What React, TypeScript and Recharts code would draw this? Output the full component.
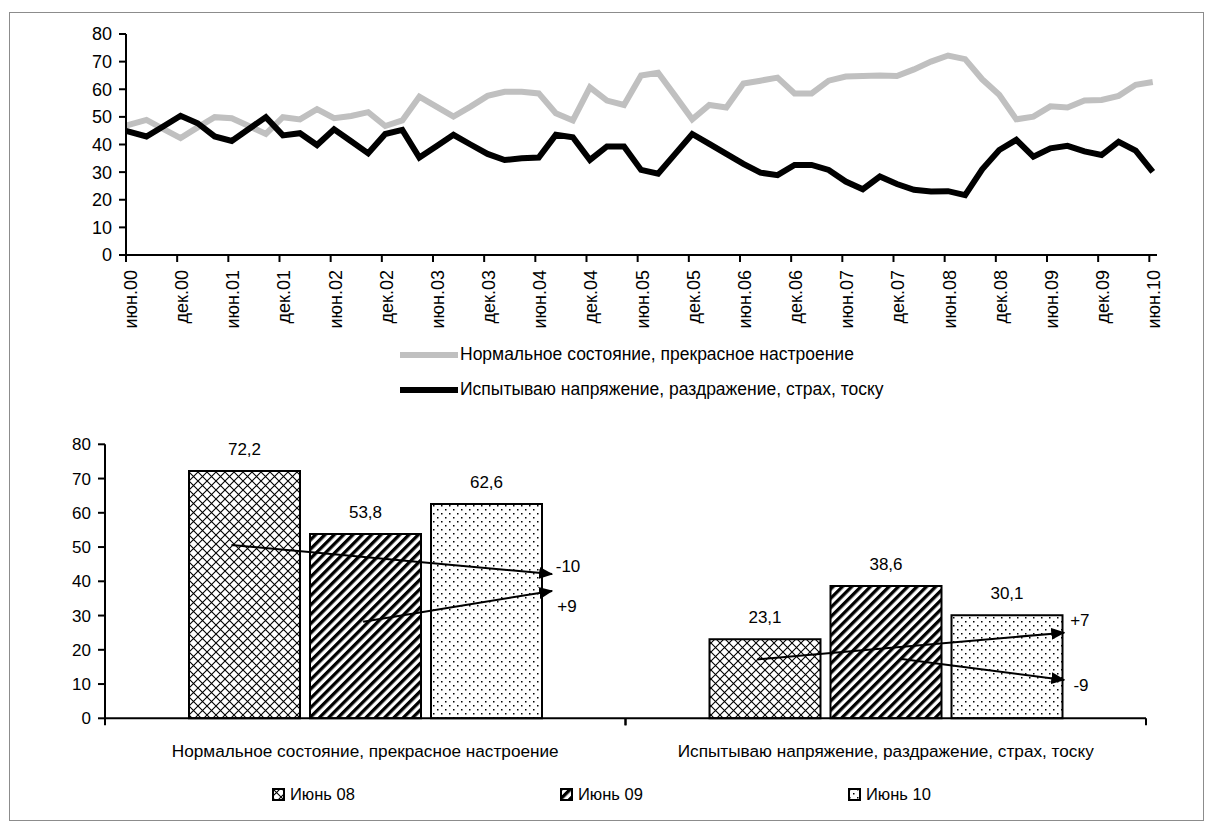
import React from 'react';
import {
  LineChart,
  Line,
  XAxis,
  YAxis,
  BarChart,
  Bar,
  LabelList,
  ReferenceLine,
  ReferenceDot,
} from 'recharts';

const FONT = '"Liberation Sans", Arial, Helvetica, sans-serif';

// months since June 2000 for every survey wave
const surveyMonths = [
  0, 2.4, 4.4, 6.4, 8.4, 10.4, 12.4, 14.4, 16.4, 18.4, 20.4, 22.4, 24.4, 26.4, 28.4, 30.4,
  32.4, 34.4, 36.4, 38.4, 40.4, 42.4, 44.4, 46.4, 48.4, 50.4, 52.4, 54.4, 56.4, 58.4, 60.4,
  62.4, 64.4, 66.4, 68.4, 70.4, 72.4, 74.4, 76.4, 78.4, 80.4, 82.4, 84.4, 86.4, 88.4, 90.4,
  92.4, 94.4, 96.4, 98.4, 100.4, 102.4, 104.4, 106.4, 108.4, 110.4, 112.4, 114.4, 116.4,
  118.4, 120.4,
];

const normalMood = [
  46.8, 48.9, 45.6, 42.3, 46.2, 49.9, 49.5, 46.7, 43.8, 49.9, 49.1, 52.8, 49.5, 50.3, 51.7,
  46.7, 48.7, 57.3, 53.7, 50.1, 53.7, 57.6, 59.1, 59.1, 58.5, 51.3, 48.7, 60.7, 55.9, 54.3,
  65.0, 66.0, 57.6, 49.1, 54.3, 53.4, 62.1, 63.1, 64.2, 58.5, 58.5, 63.1, 64.6, 64.8, 65.0,
  64.8, 67.2, 70.0, 72.2, 70.9, 63.6, 58.0, 49.1, 50.1, 53.8, 53.4, 55.9, 56.1, 57.6, 61.6,
  62.6,
];

const stressMood = [
  44.9, 42.9, 46.6, 50.4, 47.7, 42.9, 41.3, 45.6, 49.9, 43.3, 44.1, 39.8, 45.5, 41.2, 36.8,
  43.8, 45.3, 35.3, 39.4, 43.5, 40.0, 36.6, 34.4, 35.0, 35.3, 43.5, 42.6, 34.4, 39.3, 39.3,
  30.8, 29.4, 36.6, 43.8, 40.2, 36.6, 33.0, 29.8, 28.9, 32.6, 32.6, 30.8, 26.6, 23.8, 28.4,
  25.7, 23.6, 23.0, 23.1, 21.7, 31.0, 38.0, 41.7, 35.6, 38.6, 39.5, 37.5, 36.2, 41.0, 37.8,
  30.1,
];

const periodLabels = [
  'июн.00', 'дек.00', 'июн.01', 'дек.01', 'июн.02', 'дек.02', 'июн.03', 'дек.03', 'июн.04',
  'дек.04', 'июн.05', 'дек.05', 'июн.06', 'дек.06', 'июн.07', 'дек.07', 'июн.08', 'дек.08',
  'июн.09', 'дек.09', 'июн.10',
];
const periodTicks = periodLabels.map((_, i) => i * 6);

const moodNames = [
  'Нормальное состояние, прекрасное настроение',
  'Испытываю напряжение, раздражение, страх, тоску',
];
const moodColors = ['#c0c0c0', '#000000'];

const waveNames = ['Июнь 08', 'Июнь 09', 'Июнь 10'];
const june08 = [72.2, 23.1];
const june09 = [53.8, 38.6];
const june10 = [62.6, 30.1];
const wavePatterns = ['url(#pCross)', 'url(#pDiag)', 'url(#pDots)'];

// change arrows: [share of the category axis width (0..1), value]
const arrowFrom = [[0.1215, 50.6], [0.248, 28.2], [0.6265, 17.2], [0.7635, 17.4]];
const arrowTo = [[0.4295, 42.1], [0.4295, 37.2], [0.9215, 25.0], [0.9215, 11.2]];
const arrowText = ['-10', '+9', '+7', '-9'];
const arrowTextAt = [[0.4448, 44.5], [0.4438, 32.8], [0.9365, 28.7], [0.9375, 9.7]];

const lineData = surveyMonths.map((m, i) => ({
  m,
  normal: normalMood[i],
  stress: stressMood[i],
}));

const barData = moodNames.map((name, i) => ({
  name,
  j08: june08[i],
  j09: june09[i],
  j10: june10[i],
}));

const yTicks = [0, 10, 20, 30, 40, 50, 60, 70, 80];

function PeriodTick({ x, y, payload }: any) {
  const px = x + 11;
  const py = y + 6;
  return (
    <text
      x={px}
      y={py}
      transform={`rotate(-90, ${px}, ${py})`}
      textAnchor="end"
      fontSize={18}
      fill="#000"
    >
      {periodLabels[periodTicks.indexOf(payload.value)]}
    </text>
  );
}

function MoodTick({ x, y, payload }: any) {
  const half = payload.offset ?? 260;
  const axisY = y - 9;
  return (
    <g>
      <line x1={x - half} y1={axisY} x2={x - half} y2={axisY + 7} stroke="#000" strokeWidth={2} />
      <line x1={x + half} y1={axisY} x2={x + half} y2={axisY + 7} stroke="#000" strokeWidth={2} />
      <text x={x} y={y + 30} textAnchor="middle" fontSize={17.2} fill="#000">
        {payload.value}
      </text>
    </g>
  );
}

function Patterns() {
  return (
    <svg width={0} height={0} style={{ position: 'absolute' }}>
      <defs>
        <pattern id="pCross" width="9" height="9" patternUnits="userSpaceOnUse">
          <rect width="9" height="9" fill="#fff" />
          <path d="M0,0 L9,9 M9,0 L0,9" stroke="#000" strokeWidth="1.1" />
        </pattern>
        <pattern id="pDiag" width="6.6" height="6.6" patternUnits="userSpaceOnUse" patternTransform="rotate(45)">
          <rect width="6.6" height="6.6" fill="#fff" />
          <rect width="3.3" height="6.6" fill="#000" />
        </pattern>
        <pattern id="pDots" width="8" height="8" patternUnits="userSpaceOnUse">
          <rect width="8" height="8" fill="#fff" />
          <rect x="1" y="1" width="1.5" height="1.5" fill="#000" />
          <rect x="5" y="5" width="1.5" height="1.5" fill="#000" />
        </pattern>
        <marker id="arrowHead" markerWidth="14" markerHeight="12" refX="13" refY="6" orient="auto" markerUnits="userSpaceOnUse">
          <path d="M0,0 L14,6 L0,12 z" fill="#000" />
        </marker>
      </defs>
    </svg>
  );
}

export default function App() {
  return (
    <div style={{ position: 'absolute', left: 0, top: 0, width: 1213, height: 824, background: '#fff', fontFamily: FONT, color: '#000' }}>
      <Patterns />
      <div style={{ position: 'absolute', left: 9, top: 12, width: 1195, height: 809, border: '1px solid #8c8c8c', boxSizing: 'border-box' }} />

      <div style={{ position: 'absolute', left: 0, top: 0 }}>
        <LineChart width={1213} height={340} data={lineData} margin={{ top: 34, right: 56, bottom: 5, left: 66 }}>
          <XAxis
            dataKey="m"
            type="number"
            domain={[0, 120.9]}
            ticks={periodTicks}
            interval={0}
            tickSize={7}
            height={80}
            axisLine={{ stroke: '#000', strokeWidth: 2 }}
            tickLine={{ stroke: '#000', strokeWidth: 2 }}
            tick={<PeriodTick />}
          />
          <YAxis
            type="number"
            domain={[0, 80]}
            ticks={yTicks}
            interval={0}
            width={60}
            tickSize={7}
            tickMargin={7}
            axisLine={{ stroke: '#000', strokeWidth: 2 }}
            tickLine={{ stroke: '#000', strokeWidth: 2 }}
            tick={{ fontSize: 18, fill: '#000' }}
          />
          <Line dataKey="normal" name={moodNames[0]} stroke={moodColors[0]} strokeWidth={6} dot={false} type="linear" isAnimationActive={false} />
          <Line dataKey="stress" name={moodNames[1]} stroke={moodColors[1]} strokeWidth={6} dot={false} type="linear" isAnimationActive={false} />
        </LineChart>
      </div>

      <div style={{ position: 'absolute', left: 400, top: 337, fontSize: 17.5 }}>
        {moodNames.map((name, i) => (
          <div key={name} style={{ display: 'flex', alignItems: 'center', height: 35 }}>
            <svg width={58} height={10}>
              <line x1={0} y1={5} x2={58} y2={5} stroke={moodColors[i]} strokeWidth={6} />
            </svg>
            <span style={{ marginLeft: 2 }}>{name}</span>
          </div>
        ))}
      </div>

      <div style={{ position: 'absolute', left: 0, top: 400 }}>
        <BarChart width={1213} height={360} data={barData} barSize={111} barGap={10} margin={{ top: 44.3, right: 67, bottom: 1.7, left: 55 }}>
          <XAxis
            dataKey="name"
            height={40}
            tickSize={7}
            tickLine={false}
            axisLine={{ stroke: '#000', strokeWidth: 2 }}
            tick={<MoodTick />}
            interval={0}
          />
          <XAxis xAxisId="u" type="number" domain={[0, 1]} allowDataOverflow hide />
          <YAxis
            type="number"
            domain={[0, 80]}
            ticks={yTicks}
            interval={0}
            width={50}
            tickSize={7}
            tickMargin={7}
            axisLine={{ stroke: '#000', strokeWidth: 2 }}
            tickLine={{ stroke: '#000', strokeWidth: 2 }}
            tick={{ fontSize: 17, fill: '#000' }}
          />
          {(['j08', 'j09', 'j10'] as const).map((key, i) => (
            <Bar key={key} dataKey={key} name={waveNames[i]} fill={wavePatterns[i]} stroke="#000" strokeWidth={2} isAnimationActive={false}>
              <LabelList
                dataKey={key}
                position="top"
                offset={16}
                fontSize={17}
                fill="#000"
                formatter={(v: any) => String(v).replace('.', ',')}
              />
            </Bar>
          ))}
          {arrowFrom.map((from, i) => (
            <ReferenceLine
              key={`a${i}`}
              xAxisId="u"
              segment={[
                { x: from[0], y: from[1] },
                { x: arrowTo[i][0], y: arrowTo[i][1] },
              ]}
              stroke="#000"
              strokeWidth={2}
              markerEnd="url(#arrowHead)"
              ifOverflow="visible"
            />
          ))}
          {arrowTextAt.map((at, i) => (
            <ReferenceDot
              key={`t${i}`}
              xAxisId="u"
              x={at[0]}
              y={at[1]}
              r={0}
              stroke="none"
              fill="none"
              ifOverflow="visible"
              label={{ value: arrowText[i], position: 'center', fontSize: 17, fill: '#000' }}
            />
          ))}
        </BarChart>
      </div>

      {waveNames.map((name, i) => (
        <div key={name} style={{ position: 'absolute', left: 272 + i * 288, top: 785, display: 'flex', alignItems: 'center', height: 18, fontSize: 16.5 }}>
          <svg width={13} height={13}>
            <rect x={1} y={1} width={11} height={11} fill={wavePatterns[i]} stroke="#000" strokeWidth={2} />
          </svg>
          <span style={{ marginLeft: 5 }}>{name}</span>
        </div>
      ))}
    </div>
  );
}
